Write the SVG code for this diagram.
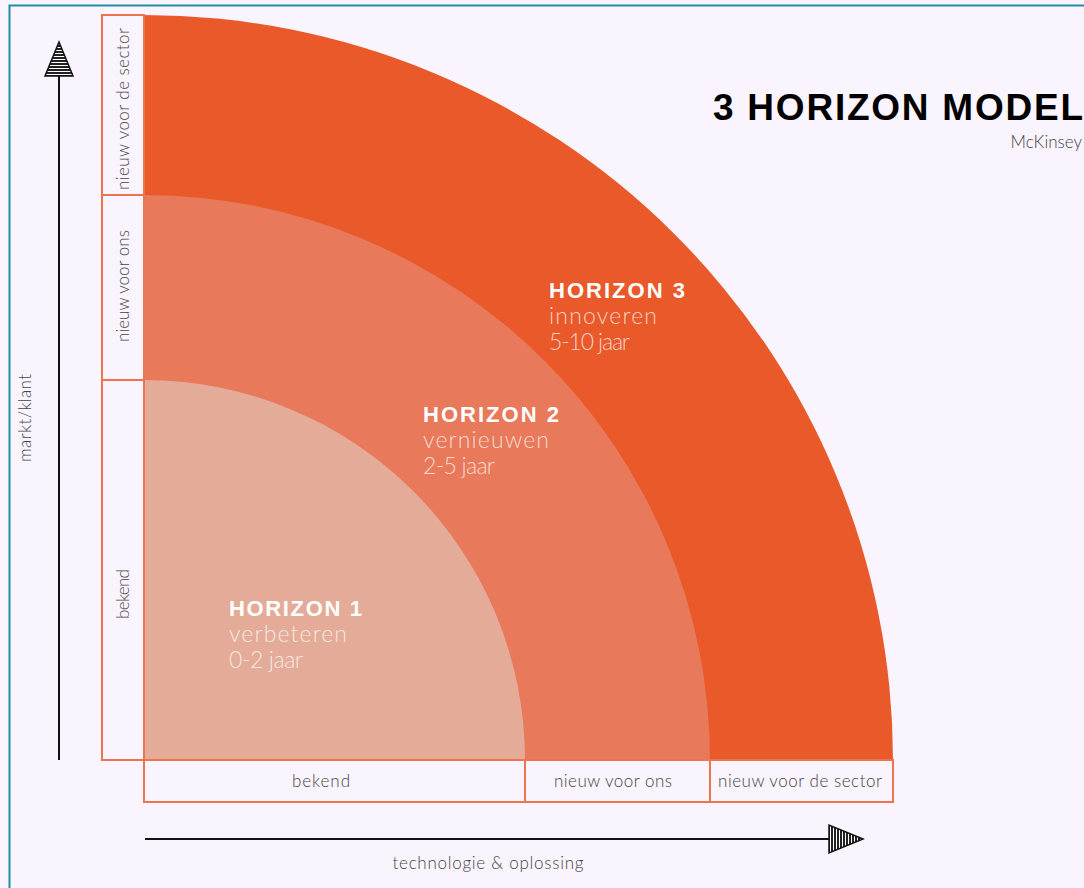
<svg xmlns="http://www.w3.org/2000/svg" width="1084" height="888" viewBox="0 0 1084 888">
<style>
.lbl{font-family:"Lato","Open Sans","Liberation Sans",sans-serif;font-weight:300;font-size:17px;fill:#444;}
.box{fill:#F9F4FD;stroke:#EE7450;stroke-width:2;}
.hb{font-family:"Liberation Sans",Arial,sans-serif;font-weight:bold;font-size:22px;fill:#fff;}
.hl{font-family:"Lato","Open Sans","Liberation Sans",sans-serif;font-weight:300;font-size:23px;fill:#fff;fill-opacity:0.72;}
.ax{stroke:#111;stroke-width:2;fill:none;}
.head{stroke:#111;stroke-width:1.5;}
</style>
<defs>
<pattern id="hh" width="4" height="3" patternUnits="userSpaceOnUse"><rect width="4" height="3" fill="#fff"/><rect width="4" height="2" fill="#222"/></pattern>
<pattern id="hv" width="3" height="4" patternUnits="userSpaceOnUse"><rect width="3" height="4" fill="#fff"/><rect width="2" height="4" fill="#222"/></pattern>
</defs>
<rect width="1084" height="888" fill="#F9F4FD"/>
<rect x="9.5" y="5.5" width="1100" height="900" fill="none" stroke="#1E8FA0" stroke-width="2"/>
<g id="horizon3"><path d="M144 760 L144 15 A749 745 0 0 1 893 760 Z" fill="#E9592A"/>
<text class="hb" x="549" y="298" textLength="136">HORIZON 3</text>
<text class="hl" x="549" y="324" textLength="108">innoveren</text>
<text class="hl" x="549" y="350" textLength="81">5-10 jaar</text></g>
<g id="horizon2"><path d="M144 760 L144 195 A566 565 0 0 1 710 760 Z" fill="#E8795A"/>
<text class="hb" x="423" y="422" textLength="136">HORIZON 2</text>
<text class="hl" x="423" y="448" textLength="126">vernieuwen</text>
<text class="hl" x="423" y="474" textLength="72">2-5 jaar</text></g>
<g id="horizon1"><path d="M144 760 L144 380 A381 380 0 0 1 525 760 Z" fill="#E4AC98"/>
<text class="hb" x="229" y="616" textLength="133">HORIZON 1</text>
<text class="hl" x="229" y="642" textLength="118">verbeteren</text>
<text class="hl" x="229" y="668" textLength="74">0-2 jaar</text></g>
<g id="y-labels">
<rect class="box" x="102" y="15" width="42" height="180"/>
<rect class="box" x="102" y="195" width="42" height="185"/>
<rect class="box" x="102" y="380" width="42" height="380"/>
<text class="lbl" transform="translate(129 109) rotate(-90)" text-anchor="middle" textLength="162">nieuw voor de sector</text>
<text class="lbl" transform="translate(129 286) rotate(-90)" text-anchor="middle">nieuw voor ons</text>
<text class="lbl" transform="translate(129 594) rotate(-90)" text-anchor="middle" textLength="50">bekend</text>
</g>
<g id="x-labels">
<rect class="box" x="144" y="760" width="381" height="42"/>
<rect class="box" x="525" y="760" width="185" height="42"/>
<rect class="box" x="710" y="760" width="183" height="42"/>
<text class="lbl" x="321" y="787" text-anchor="middle" textLength="58">bekend</text>
<text class="lbl" x="613" y="787" text-anchor="middle" textLength="118">nieuw voor ons</text>
<text class="lbl" x="800" y="787" text-anchor="middle" textLength="164">nieuw voor de sector</text>
</g>
<g id="connectors">
<line class="ax" x1="59" y1="760" x2="59" y2="74"/>
<polygon class="head" points="59,42 73,76 45,76" fill="url(#hh)"/>
<line class="ax" x1="145" y1="839" x2="831" y2="839"/>
<polygon class="head" points="863,839 829,825 829,853" fill="url(#hv)"/>
</g>
<g id="axis-titles">
<text class="lbl" transform="translate(31 418) rotate(-90)" text-anchor="middle" textLength="88">markt/klant</text>
<text class="lbl" x="488" y="869" text-anchor="middle" textLength="191">technologie &amp; oplossing</text>
</g>
<g id="title">
<text x="713" y="120" font-family="'Liberation Sans',Arial,sans-serif" font-weight="bold" font-size="37" textLength="370" fill="#000">3 HORIZON MODEL</text>
<text class="lbl" x="1082" y="148" fill="#666" font-size="15" text-anchor="end">McKinsey</text>
</g>
</svg>
